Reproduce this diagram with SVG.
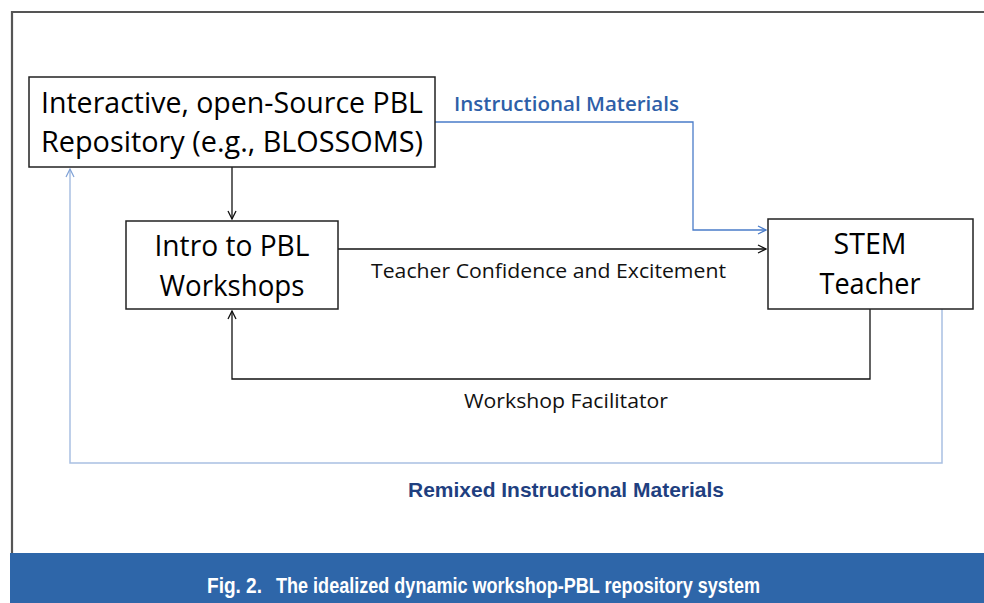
<svg xmlns="http://www.w3.org/2000/svg" width="984" height="603" viewBox="0 0 984 603">
<defs>
<style>
.box{fill:#fff;stroke:#222;stroke-width:1.5}
.nt{font-family:"Open Sans","Liberation Sans",sans-serif;font-size:29px;fill:#000;text-anchor:middle}
.lbl{font-family:"Open Sans","Liberation Sans",sans-serif;font-size:20px;fill:#111}
.blk{fill:none;stroke:#111;stroke-width:1.3}
.blu{fill:none;stroke:#4a7cc9;stroke-width:1.3}
.lblu{fill:none;stroke:#a9c0e2;stroke-width:1.5}
.cap{font-family:"Liberation Sans",sans-serif;font-size:22px;font-weight:bold;fill:#fff}
</style>
<marker id="ak" viewBox="0 0 10 10" refX="9" refY="5" markerWidth="10" markerHeight="10" markerUnits="userSpaceOnUse" orient="auto"><path d="M1,1 L9,5 L1,9" fill="none" stroke="#111" stroke-width="1.3"/></marker>
<marker id="ab" viewBox="0 0 10 10" refX="9" refY="5" markerWidth="10" markerHeight="10" markerUnits="userSpaceOnUse" orient="auto"><path d="M1,1 L9,5 L1,9" fill="none" stroke="#4a7cc9" stroke-width="1.3"/></marker>
<marker id="alb" viewBox="0 0 10 10" refX="9" refY="5" markerWidth="10" markerHeight="10" markerUnits="userSpaceOnUse" orient="auto"><path d="M1,1 L9,5 L1,9" fill="none" stroke="#7fa1d6" stroke-width="1.2"/></marker>
</defs>
<rect width="984" height="603" fill="#fff"/>
<path d="M12,553 L12,12 L984,12" fill="none" stroke="#555" stroke-width="2.2"/>
<g id="connectors">
<path class="blu" d="M435,122 L693,122 L693,230 L766,230" marker-end="url(#ab)"/>
<path class="blk" d="M232,167 L232,219" marker-end="url(#ak)"/>
<path class="blk" d="M338,249 L766,249" marker-end="url(#ak)"/>
<path class="blk" d="M870,309 L870,379 L232,379 L232,311" marker-end="url(#ak)"/>
<path class="lblu" d="M942,309 L942,463 L70,463 L70,169" marker-end="url(#alb)"/>
<text class="lbl" x="454" y="111" style="fill:#2e5fa8;font-weight:600" textLength="225" lengthAdjust="spacingAndGlyphs">Instructional Materials</text>
<text class="lbl" x="371" y="278" textLength="355" lengthAdjust="spacingAndGlyphs">Teacher Confidence and Excitement</text>
<text class="lbl" x="464" y="408" textLength="204" lengthAdjust="spacingAndGlyphs">Workshop Facilitator</text>
<text x="408" y="497" font-family="'Liberation Sans',sans-serif" font-size="21" font-weight="bold" fill="#1f3f80" textLength="316" lengthAdjust="spacingAndGlyphs">Remixed Instructional Materials</text>
</g>
<g id="repo">
<rect class="box" x="29" y="77" width="406" height="90"/>
<text class="nt" x="232" y="113" textLength="382" lengthAdjust="spacingAndGlyphs">Interactive, open-Source PBL</text>
<text class="nt" x="232" y="152" textLength="382" lengthAdjust="spacingAndGlyphs">Repository (e.g., BLOSSOMS)</text>
</g>
<g id="intro">
<rect class="box" x="126" y="221" width="212" height="88"/>
<text class="nt" x="232" y="256" textLength="155" lengthAdjust="spacingAndGlyphs">Intro to PBL</text>
<text class="nt" x="232" y="296" textLength="145" lengthAdjust="spacingAndGlyphs">Workshops</text>
</g>
<g id="stem">
<rect class="box" x="768" y="219" width="205" height="90"/>
<text class="nt" x="870" y="254" textLength="73" lengthAdjust="spacingAndGlyphs">STEM</text>
<text class="nt" x="870" y="294" textLength="101" lengthAdjust="spacingAndGlyphs">Teacher</text>
</g>
<g id="caption">
<rect x="10" y="553" width="974" height="50" fill="#2e66a9"/>
<text class="cap" x="207" y="593" textLength="55" lengthAdjust="spacingAndGlyphs">Fig. 2.</text>
<text class="cap" x="276" y="593" textLength="484" lengthAdjust="spacingAndGlyphs">The idealized dynamic workshop-PBL repository system</text>
</g>
</svg>
